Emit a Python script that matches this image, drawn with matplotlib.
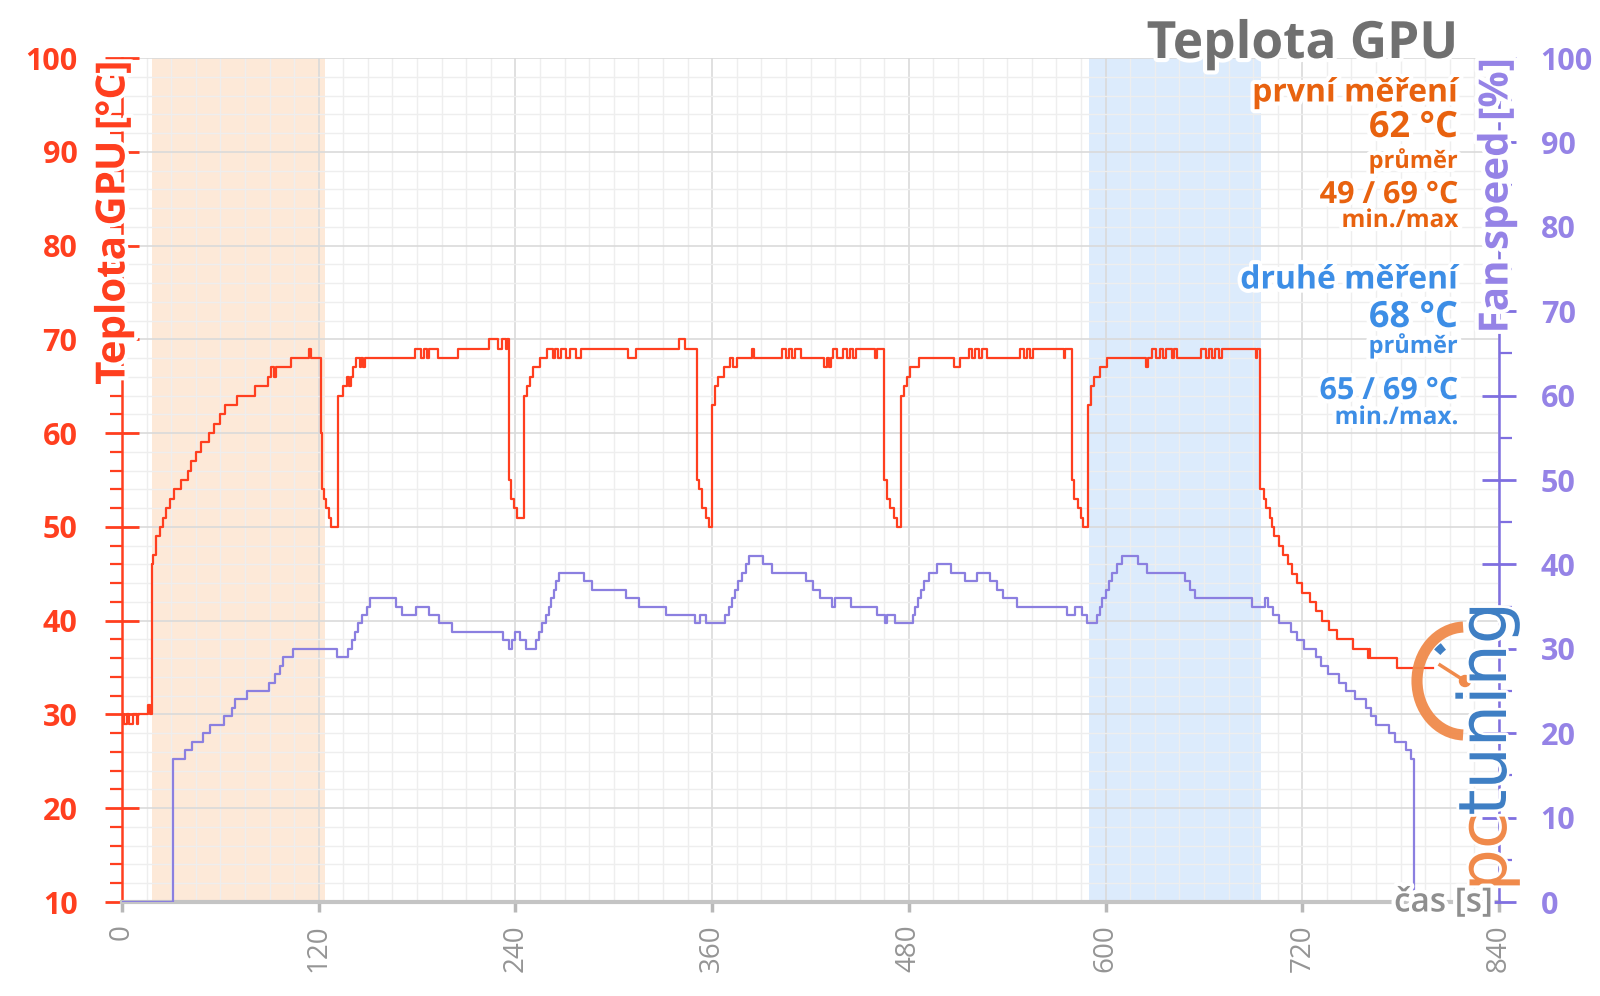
import numpy as np
import matplotlib
matplotlib.use("Agg")
import matplotlib.pyplot as plt
import matplotlib.patheffects as pe
from matplotlib.patches import Arc, Circle
from matplotlib.ticker import MultipleLocator

plt.rcParams['font.family'] = ['Open Sans', 'DejaVu Sans']

# GPU teplota - body zmeny hodnoty (cas [s], teplota [°C])
temp_t = [0, 1.5, 3, 4, 7, 9, 10, 16, 17, 18, 19, 21, 23, 25, 27, 29, 32, 36, 40, 42, 45, 48, 53, 56, 60, 63, 70,
          81, 89, 91, 93, 94, 103, 114, 115, 121.5, 122, 123, 124.5, 126, 127.5, 132, 135, 137, 138.5, 139.5, 141,
          143, 145, 146, 147, 148, 179, 182.5, 184, 186, 187, 193, 205, 224, 229.5, 232, 234, 235, 236, 237, 239,
          241, 245.5, 247, 249, 251, 255, 259.5, 263, 264, 266, 268, 271, 273, 277, 280, 308.5, 313.5, 339.5,
          343.5, 350.5, 352, 354, 356.5, 358, 360, 362, 363.5, 367, 371, 373, 375, 384.5, 385.5, 402.5, 405, 407,
          409, 410.5, 414, 428.5, 430, 431, 432.5, 434, 436, 440, 442, 444, 446, 447.5, 459.5, 460.5, 465, 466.5,
          468.5, 471, 473, 475, 477, 479, 481, 486, 507.5, 511.5, 516.5, 518.5, 520.5, 522.5, 524.5, 527.5, 548,
          550, 552, 554, 556, 574.5, 575.5, 579.5, 581, 583, 585, 586.5, 589, 591, 593, 596.5, 601, 624.5, 626,
          628.5, 631, 633, 635, 637, 640.5, 642, 643.5, 658.5, 661, 663, 665, 667, 669, 671, 691.5, 692.5, 694.5,
          696.5, 698, 700, 701.5, 703, 705.5, 708, 711, 713.5, 717, 720, 724.5, 728.5, 732, 736, 741, 751, 760,
          760.5, 761.5, 777.5, 800]
temp_v = [30, 29, 30, 29, 30, 29, 30, 31, 30, 46, 47, 49, 50, 51, 52, 53, 54, 55, 56, 57, 58, 59, 60, 61, 62, 63, 64,
          65, 66, 67, 66, 67, 68, 69, 68, 60, 54, 53, 52, 51, 50, 64, 65, 66, 65, 66, 67,
          68, 67, 68, 67, 68, 69, 68, 69, 68, 69, 68, 69, 70, 69, 70, 69, 70, 55, 53, 52,
          51, 64, 65, 66, 67, 68, 69, 68, 69, 68, 69, 68, 69, 68, 69, 68, 69, 70,
          69, 55, 54, 52, 51, 50, 63, 65, 66, 67, 68, 67, 68, 69, 68, 69, 68, 69,
          68, 69, 68, 67, 68, 67, 68, 69, 68, 69, 68, 69, 68, 69, 68, 69, 55, 53,
          52, 51, 50, 64, 65, 66, 67, 68, 67, 68, 69, 68, 69, 68, 69, 68, 69,
          68, 69, 68, 69, 68, 69, 55, 53, 52, 51, 50, 63, 65, 66, 67, 68, 67, 68,
          69, 68, 69, 68, 69, 68, 69, 68, 69, 68, 69, 68, 69, 68, 69, 68, 69, 54,
          53, 52, 51, 50, 49, 48, 47, 46, 45, 44, 43, 42, 41, 40, 39, 38, 37, 36,
          37, 36, 35, 35]

# otacky ventilatoru - body zmeny hodnoty (cas [s], fan [%])
fan_t = [0, 31, 38.5, 42.5, 49.5, 53.5, 62.5, 67, 69, 76, 89.5, 93.5, 96.5, 98.5, 104.5, 131, 138, 140, 142, 144,
         146.5, 149.5, 151.5, 167, 171, 179.5, 187.5, 193.5, 201.5, 232.5, 236, 238, 239.5, 242.5, 246.5, 252.5,
         254.5, 256.5, 258.5, 260.5, 262, 263.5, 265, 266.5, 282, 286.5, 307.5, 315.5, 332, 349.5, 352.5, 356.5,
         368, 370, 372, 374, 376, 378.5, 380.5, 382.5, 391, 396.5, 417.5, 421.5, 425.5, 433, 435, 445, 460.5,
         465.5, 466.5, 471.5, 482.5, 484, 485.5, 487.5, 489.5, 492, 497, 506, 514.5, 521.5, 529.5, 533.5, 537.5,
         546, 576.5, 581.5, 585.5, 588.5, 594.5, 596.5, 598, 600, 602, 604, 607, 610, 620, 625, 648.5, 651.5,
         654.5, 689.5, 697.5, 699, 702, 706, 713, 717, 721, 728.5, 731.5, 735.5, 742.5, 746.5, 752, 759, 762,
         765, 773, 776.5, 783.5, 786.5, 788]
fan_v = [0, 17, 18, 19, 20, 21, 22, 23, 24, 25, 26, 27, 28, 29, 30, 29, 30, 31, 32, 33,
         34, 35, 36, 35, 34, 35, 34, 33, 32, 31, 30, 31, 32, 31, 30, 31,
         32, 33, 34, 35, 36, 37, 38, 39, 38, 37, 36, 35, 34, 33, 34, 33,
         34, 35, 36, 37, 38, 39, 40, 41, 40, 39, 38, 37, 36, 35, 36, 35, 34,
         33, 34, 33, 34, 35, 36, 37, 38, 39, 40, 39, 38, 39, 38, 37, 36,
         35, 34, 35, 34, 33, 34, 35, 36, 37, 38, 39, 40, 41, 40, 39, 38, 37,
         36, 35, 36, 35, 34, 33, 32, 31, 30, 29, 28, 27, 26, 25, 24, 23, 22,
         21, 20, 19, 18, 17, 0]

usek_1 = (18.5, 124)
usek_2 = (590, 695)

x_ticks = [0, 120, 240, 360, 480, 600, 720, 840]
y_ticks_l = [10, 20, 30, 40, 50, 60, 70, 80, 90, 100]
y_ticks_r = [0, 10, 20, 30, 40, 50, 60, 70, 80, 90, 100]

cervena = '#ff3f1f'
fialova = '#8b7fe0'
fial_txt = '#9583e6'
oranz = '#e8620f'
modra = '#3d8ee6'

W, H = 1600, 996
def fx(x):
    return x / W
def fy(y):
    return 1 - y / H

fig = plt.figure(figsize=(16, 9.96), dpi=100)
ax = fig.add_axes([122 / W, fy(902), (1499 - 122) / W, (902 - 58) / H])
ax.set_axisbelow(True)

ax.axvspan(usek_1[0], usek_1[1], color='#fde9d8', zorder=0.3, lw=0)
ax.axvspan(usek_2[0], usek_2[1], color='#dcebfc', zorder=0.3, lw=0)

ax.plot(temp_t, temp_v, drawstyle='steps-post', color=cervena, lw=1.6, zorder=3)

ax.set_xlim(0, 840)
ax.set_ylim(10, 100)
ax.set_xticks(x_ticks)
ax.set_yticks(y_ticks_l)
ax.xaxis.set_minor_locator(MultipleLocator(15))
ax.yaxis.set_minor_locator(MultipleLocator(2))
ax.grid(which='major', color='#dadada', lw=1.2)
ax.grid(which='minor', color='#eeeeee', lw=1.0)

for s in ['top', 'right']:
    ax.spines[s].set_visible(False)
ax.spines['bottom'].set_color('#c4c4c4')
ax.spines['bottom'].set_linewidth(3)
ax.spines['left'].set_color(cervena)
ax.spines['left'].set_linewidth(1.8)

ax.tick_params(axis='x', which='major', length=7, width=2.5, color='#b8b8b8', pad=9,
               labelsize=20, labelcolor='#959595', labelrotation=90)
ax.tick_params(axis='x', which='minor', length=0)
ax.tick_params(axis='y', which='major', direction='inout', length=24, width=2, color=cervena, pad=20,
               labelsize=22, labelcolor=cervena)
ax.tick_params(axis='y', which='minor', direction='out', length=9, width=1.6, color=cervena)
for lab in ax.get_yticklabels():
    lab.set_fontweight('bold')

ax2 = ax.twinx()
ax2.plot(fan_t, fan_v, drawstyle='steps-post', color=fialova, lw=1.6, zorder=3)
ax2.set_ylim(0, 100)
ax2.set_yticks(y_ticks_r)
ax2.yaxis.set_minor_locator(MultipleLocator(5))
for s in ['top', 'left', 'bottom']:
    ax2.spines[s].set_visible(False)
ax2.spines['right'].set_color('#7f6fe0')
ax2.spines['right'].set_linewidth(1.8)
ax2.tick_params(axis='y', which='major', direction='inout', length=24, width=2, color='#7f6fe0', pad=18,
                labelsize=22, labelcolor=fial_txt)
ax2.tick_params(axis='y', which='minor', direction='out', length=9, width=1.6, color='#7f6fe0')
for lab in ax2.get_yticklabels():
    lab.set_fontweight('bold')

bila = [pe.withStroke(linewidth=6, foreground='white')]

# logo pctuning
lg = fig.add_axes([1400 / W, fy(885), 120 / W, 305 / H])
lg.set_xlim(0, 120)
lg.set_ylim(0, 305)
lg.axis('off')
lg.patch.set_alpha(0)
lg.add_patch(Arc((65, 204), 96, 108, theta1=92, theta2=268, lw=8, color='#f08a4b', alpha=0.95))
lg.add_patch(Arc((65, 204), 76, 84, theta1=122, theta2=134, lw=6, color='#3f7fc4'))
lg.plot([65, 40], [204, 220], color='#f08a4b', lw=2.5)
lg.add_patch(Circle((65, 204), 5.5, color='#f08a4b'))
lg.text(87, 33, 'pc', rotation=90, ha='center', va='center', fontsize=48, family='DejaVu Sans',
        color='#f08a4b', path_effects=[pe.withStroke(linewidth=4, foreground='white')])
lg.text(87, 176, 'tuning', rotation=90, ha='center', va='center', fontsize=48, family='DejaVu Sans',
        color='#3f7fc4', path_effects=[pe.withStroke(linewidth=4, foreground='white')])

# popisky os
fig.text(fx(114), fy(223), 'Teplota GPU [°C]', rotation=90, ha='center', va='center', fontsize=29,
         fontweight='bold', color=cervena, path_effects=bila)
fig.text(fx(1497), fy(196), 'Fan speed [%]', rotation=90, ha='center', va='center', fontsize=29,
         fontweight='bold', color=fial_txt, path_effects=bila)
fig.text(fx(1493), fy(903), 'čas [s]', ha='right', va='center', fontsize=24, color='#8f8f8f',
         fontweight='semibold', path_effects=bila)

# nadpis a souhrn
fig.text(fx(1458), fy(45), 'Teplota GPU', ha='right', va='center', fontsize=37, fontweight='bold',
         color='#707070', path_effects=bila)
popisky = [
    ('první měření', 93, 23, oranz),
    ('62 °C', 128, 26, oranz),
    ('průměr', 161, 17, oranz),
    ('49 / 69 °C', 195, 22, oranz),
    ('min./max', 221, 17.5, oranz),
    ('druhé měření', 280, 23, modra),
    ('68 °C', 318, 26, modra),
    ('průměr', 346, 17, modra),
    ('65 / 69 °C', 391, 22, modra),
    ('min./max.', 418, 17.5, modra),
]
for txt, yy, fs, col in popisky:
    fig.text(fx(1458), fy(yy), txt, ha='right', va='center', fontsize=fs, fontweight='bold', color=col,
             path_effects=bila)

fig.savefig('out.png', dpi=100)
